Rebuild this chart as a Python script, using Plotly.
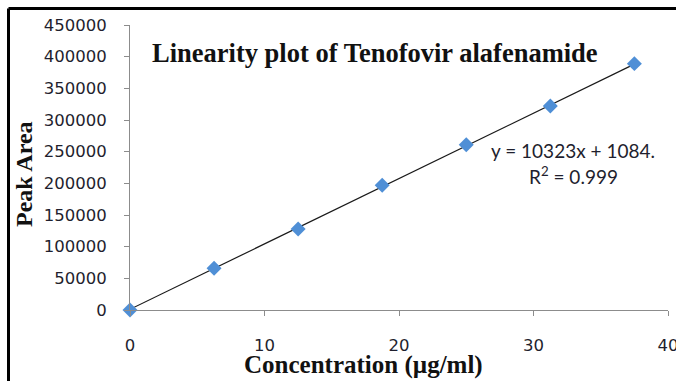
import plotly.graph_objects as go

# Calibration standards (µg/ml) and measured peak areas
concentration = [0, 6.25, 12.5, 18.75, 25, 31.25, 37.5]
peak_area = [0, 65800, 128000, 197000, 261000, 322000, 389000]

# Linear regression reported for the calibration
slope = 10323
intercept = 1084
r_squared = 0.999

x_ticks = [0, 10, 20, 30, 40]
y_ticks = list(range(0, 450001, 50000))

W, H = 676, 381
ML, MR, MT, MB = 130, 8, 25, 71
PW, PH = W - ML - MR, H - MT - MB


def px_to_paper_x(px):
    return (px - ML) / PW


def px_to_paper_y(py):
    return (H - MB - py) / PH


fit_x = [concentration[0], concentration[-1]]
fit_y = [slope * x + intercept for x in fit_x]

fig = go.Figure()
fig.add_trace(go.Scatter(
    x=fit_x, y=fit_y, mode="lines",
    line=dict(color="#1a1a1a", width=1.2),
    hoverinfo="skip", showlegend=False,
))
fig.add_trace(go.Scatter(
    x=concentration, y=peak_area, mode="markers",
    marker=dict(symbol="diamond", size=11.5, color="#4f8fd6"),
    cliponaxis=False, showlegend=False,
))

axis_common = dict(
    showgrid=False, zeroline=False, showline=True,
    linecolor="#8c8c8c", linewidth=1,
    ticks="outside", ticklen=5, tickcolor="#8c8c8c", tickwidth=1,
    tickfont=dict(family="DejaVu Sans", size=16.5, color="#1f1f2e"),
    ticklabeloverflow="allow", automargin=False,
)

fig.update_layout(
    width=W, height=H,
    margin=dict(l=ML, r=MR, t=MT, b=MB, autoexpand=False),
    paper_bgcolor="white", plot_bgcolor="white",
    xaxis=dict(range=[0, 40], tickvals=x_ticks, ticklabelstandoff=15, **axis_common),
    yaxis=dict(range=[0, 450000], tickvals=y_ticks, tickformat="d",
               ticklabelstandoff=14, **axis_common),
    annotations=[
        dict(text="<b>Linearity plot of Tenofovir alafenamide</b>",
             xref="paper", yref="paper",
             x=px_to_paper_x(375), y=px_to_paper_y(53),
             xanchor="center", yanchor="middle", showarrow=False,
             font=dict(family="Liberation Serif", size=26.5, color="#111111")),
        dict(text="<b>Concentration (µg/ml)</b>",
             xref="paper", yref="paper",
             x=px_to_paper_x(363), y=px_to_paper_y(365),
             xanchor="center", yanchor="middle", showarrow=False,
             font=dict(family="Liberation Serif", size=25, color="#111111")),
        dict(text="<b>Peak Area</b>",
             xref="paper", yref="paper",
             x=px_to_paper_x(24), y=px_to_paper_y(174),
             xanchor="center", yanchor="middle", showarrow=False, textangle=-90,
             font=dict(family="Liberation Serif", size=24, color="#111111")),
        dict(text=f"y = {slope}x + {intercept}.",
             xref="paper", yref="paper",
             x=px_to_paper_x(573), y=px_to_paper_y(150),
             xanchor="center", yanchor="middle", showarrow=False,
             font=dict(family="Lato", size=19, color="#1f1f2e")),
        dict(text=f"R<sup>2</sup> = {r_squared}",
             xref="paper", yref="paper",
             x=px_to_paper_x(573), y=px_to_paper_y(175),
             xanchor="center", yanchor="middle", showarrow=False,
             font=dict(family="Lato", size=19, color="#1f1f2e")),
    ],
    shapes=[
        dict(type="line", xref="paper", yref="paper",
             x0=px_to_paper_x(8.5), x1=px_to_paper_x(W + 10),
             y0=px_to_paper_y(8.5), y1=px_to_paper_y(8.5),
             line=dict(color="black", width=3)),
        dict(type="line", xref="paper", yref="paper",
             x0=px_to_paper_x(8.5), x1=px_to_paper_x(8.5),
             y0=px_to_paper_y(8.5), y1=px_to_paper_y(H + 10),
             line=dict(color="black", width=3)),
    ],
)

fig.write_html("out.html")
